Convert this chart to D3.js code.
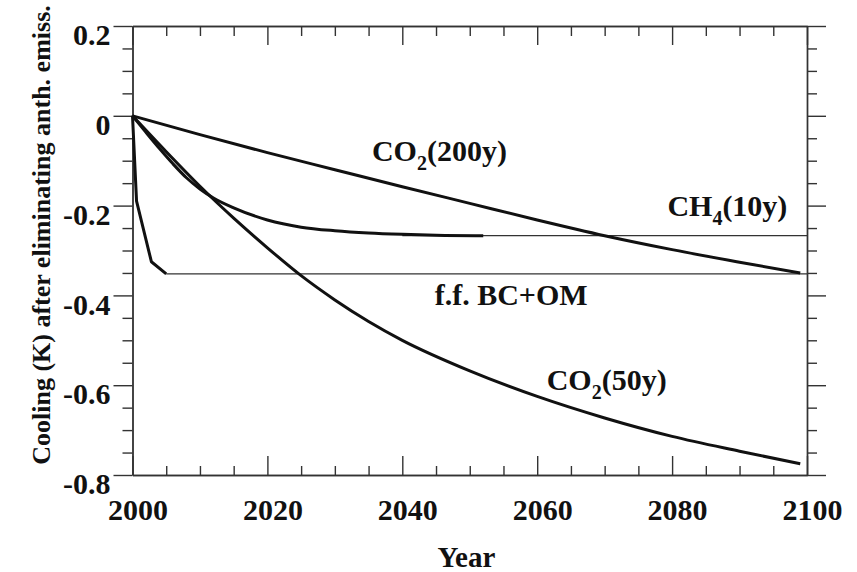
<!DOCTYPE html>
<html lang="en">
<head>
	<meta charset="utf-8">
	<title>Cooling after eliminating anthropogenic emissions</title>
	<style>
		body { margin: 0; background: #fff; }
		svg text { font-family: "Liberation Serif", "Times New Roman", serif; font-weight: bold; fill: #111; }
		.axis path, .axis line { stroke: #333; stroke-width: 1.4px; }
		.thick { fill: none; stroke: #111; stroke-width: 3px; stroke-linejoin: round; }
		.thin { fill: none; stroke: #333; stroke-width: 1.3px; }
	</style>
</head>
<body>
	<div id="chart"></div>

	<script src="https://cdn.jsdelivr.net/npm/d3@7"></script>
	<script>
		// values
		var co2_200_years = [2000, 2010, 2020, 2030, 2040, 2050, 2060, 2070, 2080, 2090, 2099];
		var co2_200_vals  = [0, -0.042, -0.082, -0.12, -0.158, -0.195, -0.232, -0.267, -0.298, -0.326, -0.35];

		var co2_50_years = [2000, 2005, 2010, 2015, 2020, 2025, 2030, 2035, 2040, 2050, 2060, 2070, 2080, 2090, 2099];
		var co2_50_vals  = [0, -0.08, -0.157, -0.228, -0.294, -0.356, -0.41, -0.458, -0.5, -0.568, -0.625, -0.673, -0.714, -0.747, -0.775];

		var ch4_years = [2000, 2002, 2004, 2006, 2008, 2010, 2012, 2015, 2020, 2025, 2030, 2035, 2040, 2045, 2052];
		var ch4_vals  = [0, -0.037, -0.073, -0.107, -0.138, -0.163, -0.183, -0.205, -0.232, -0.248, -0.256, -0.261, -0.264, -0.266, -0.267];
		var ch4_flat_years = [2040, 2100];
		var ch4_flat_vals  = [-0.267, -0.267];

		var bc_years = [2000, 2000.6, 2002.8, 2005];
		var bc_vals  = [0, -0.19, -0.325, -0.352];
		var bc_flat_years = [2005, 2100];
		var bc_flat_vals  = [-0.352, -0.352];

		var x_ticks = [2000, 2020, 2040, 2060, 2080, 2100];
		var y_ticks = [0.2, 0, -0.2, -0.4, -0.6, -0.8];

		var labels = [
			{ main: "CO", sub: "2", rest: "(200y)", year: 2035.5, val: -0.1 },
			{ main: "CH", sub: "4", rest: "(10y)", year: 2079.3, val: -0.223 },
			{ main: "f.f. BC+OM", sub: "", rest: "", year: 2044.8, val: -0.421 },
			{ main: "CO", sub: "2", rest: "(50y)", year: 2061.4, val: -0.61 }
		];

		var width = 857,
		    height = 572,
		    margin = { top: 26, right: 50, bottom: 97, left: 132.5 };

		var svg = d3.select("#chart")
				.append("svg")
				.attr("width", width)
				.attr("height", height);

		var x = d3.scaleLinear()
				.domain([2000, 2100])
				.range([margin.left, width - margin.right]);

		var y = d3.scaleLinear()
				.domain([-0.8, 0.2])
				.range([height - margin.bottom, margin.top]);

		var minorX = d3.range(2000, 2101, 5).filter(function(d) { return d % 20 !== 0; });
		var minorY = d3.range(-16, 5).map(function(d) { return d * 0.05; })
				.filter(function(d) { return Math.abs(Math.round(d * 100)) % 20 !== 0; });

		// minor ticks first, no labels
		svg.append("g").attr("class", "axis")
				.attr("transform", "translate(0," + y(-0.8) + ")")
				.call(d3.axisBottom(x).tickValues(minorX).tickSize(-9).tickSizeOuter(0).tickFormat(""));
		svg.append("g").attr("class", "axis")
				.attr("transform", "translate(0," + y(0.2) + ")")
				.call(d3.axisTop(x).tickValues(minorX).tickSize(-10).tickSizeOuter(0).tickFormat(""));
		svg.append("g").attr("class", "axis")
				.attr("transform", "translate(" + x(2000) + ",0)")
				.call(d3.axisLeft(y).tickValues(minorY).tickSize(10).tickSizeOuter(0).tickFormat(""));
		svg.append("g").attr("class", "axis")
				.attr("transform", "translate(" + x(2100) + ",0)")
				.call(d3.axisRight(y).tickValues(minorY).tickSize(10).tickSizeOuter(0).tickFormat(""));

		// major ticks
		var xBottom = svg.append("g").attr("class", "axis")
				.attr("transform", "translate(0," + y(-0.8) + ")")
				.call(d3.axisBottom(x).tickValues(x_ticks).tickSize(-19).tickSizeOuter(0).tickPadding(24)
					.tickFormat(function(d) { return d; }));
		xBottom.selectAll("text").attr("font-size", 30).attr("dx", 5);

		svg.append("g").attr("class", "axis")
				.attr("transform", "translate(0," + y(0.2) + ")")
				.call(d3.axisTop(x).tickValues(x_ticks).tickSize(-19).tickSizeOuter(0).tickFormat(""));

		var yLeft = svg.append("g").attr("class", "axis")
				.attr("transform", "translate(" + x(2000) + ",0)")
				.call(d3.axisLeft(y).tickValues(y_ticks).tickSize(19).tickSizeOuter(0).tickPadding(3)
					.tickFormat(function(d) { return d === 0 ? "0" : d.toFixed(1); }));
		yLeft.selectAll("text").attr("font-size", 30).attr("dy", "0.62em");

		svg.append("g").attr("class", "axis")
				.attr("transform", "translate(" + x(2100) + ",0)")
				.call(d3.axisRight(y).tickValues(y_ticks).tickSize(19).tickSizeOuter(0).tickFormat(""));

		svg.selectAll(".axis text").attr("font-family", null);
		svg.selectAll(".axis .domain").attr("stroke", "#333");

		// curves
		function pairs(xs, ys) {
			return xs.map(function(d, i) { return [d, ys[i]]; });
		}

		var smooth = d3.line()
				.x(function(d) { return x(d[0]); })
				.y(function(d) { return y(d[1]); })
				.curve(d3.curveMonotoneX);

		var straight = d3.line()
				.x(function(d) { return x(d[0]); })
				.y(function(d) { return y(d[1]); });

		svg.append("path").attr("class", "thin").attr("d", straight(pairs(bc_flat_years, bc_flat_vals)));
		svg.append("path").attr("class", "thin").attr("d", straight(pairs(ch4_flat_years, ch4_flat_vals)));

		svg.append("path").attr("class", "thick").attr("d", smooth(pairs(co2_200_years, co2_200_vals)));
		svg.append("path").attr("class", "thick").attr("d", smooth(pairs(co2_50_years, co2_50_vals)));
		svg.append("path").attr("class", "thick").attr("d", smooth(pairs(ch4_years, ch4_vals)));
		svg.append("path").attr("class", "thick").attr("d", straight(pairs(bc_years, bc_vals)));

		// curve labels
		labels.forEach(function(l) {
			var t = svg.append("text")
					.attr("x", x(l.year))
					.attr("y", y(l.val))
					.attr("font-size", 30);
			t.append("tspan").text(l.main);
			if (l.sub) {
				t.append("tspan").attr("font-size", 20).attr("dy", 9).text(l.sub);
				t.append("tspan").attr("dy", -9).text(l.rest);
			}
		});

		// axis titles
		svg.append("text")
				.attr("x", x(2049.5))
				.attr("y", 567)
				.attr("text-anchor", "middle")
				.attr("font-size", 29)
				.text("Year");

		svg.append("text")
				.attr("transform", "translate(50," + 235 + ") rotate(-90)")
				.attr("text-anchor", "middle")
				.attr("font-size", 26)
				.text("Cooling (K) after eliminating anth. emiss.");
	</script>
</body>
</html>
